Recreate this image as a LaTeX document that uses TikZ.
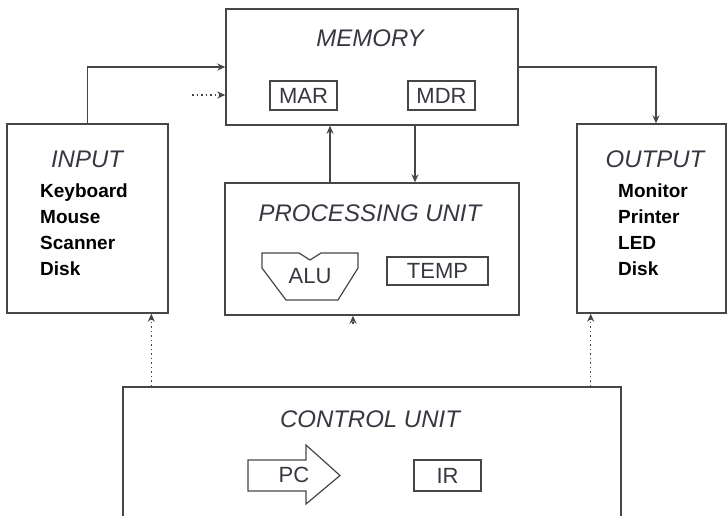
\documentclass[tikz,border=0pt]{standalone}
\usepackage{fontspec}
\setmainfont{Liberation Sans}
\usetikzlibrary{arrows.meta,positioning,calc}
\definecolor{boxgray}{RGB}{70,70,70}
\definecolor{titlegray}{RGB}{55,55,65}

\begin{document}
\begin{tikzpicture}[x=1pt, y=-1pt,
    unit/.style={rectangle, draw=boxgray, line width=1.4pt, inner sep=0pt},
    unittitle/.style={font=\fontsize{24}{28}\selectfont\itshape, text=titlegray, inner sep=0pt},
    items/.style={font=\fontsize{19}{26}\selectfont\bfseries, align=left, anchor=north west, inner sep=0pt},
    reg/.style={rectangle, draw=boxgray, line width=1.2pt, font=\fontsize{22}{26}\selectfont, text=titlegray, inner sep=0pt},
    link/.style={draw=boxgray, line width=1.4pt, -{Stealth[length=8pt,width=7pt]}},
    ctrl/.style={link, dash pattern=on 1.5pt off 3pt}]
        \useasboundingbox (0,0) rectangle (728,515);

        % units
        \node[unit, minimum width=292pt, minimum height=116pt] (mem) at (372,67) {};
        \node[unit, minimum width=161pt, minimum height=189pt] (inp) at (87.5,218.5) {};
        \node[unit, minimum width=149pt, minimum height=189pt] (out) at (651.5,218.5) {};
        \node[unit, minimum width=294pt, minimum height=132pt] (pu) at (372,249) {};
        \node[unit, minimum width=498pt, minimum height=160pt] (cu) at (372,467) {};

        % titles
        \node[unittitle] (memtitle) at (370,38) {MEMORY};
        \node[unittitle] (inptitle) at (87,159) {INPUT};
        \node[unittitle] (outtitle) at (655,159) {OUTPUT};
        \node[unittitle] (putitle) at (370,213) {PROCESSING UNIT};
        \node[unittitle] (cutitle) at (370,419) {CONTROL UNIT};

        % devices
        \node[items] (inplist) at (40,184) {Keyboard\\Mouse\\Scanner\\Disk};
        \node[items] (outlist) at (618,184) {Monitor\\Printer\\LED\\Disk};

        % registers
        \node[reg, minimum width=67pt, minimum height=29pt] (mar) at (303.5,95.5) {MAR};
        \node[reg, minimum width=67pt, minimum height=29pt] (mdr) at (441.5,95.5) {MDR};
        \node[reg, minimum width=101pt, minimum height=28pt] (temp) at (437.5,271) {TEMP};
        \node[reg, minimum width=67pt, minimum height=31pt] (ir) at (447.5,475.5) {IR};
        \node[reg, draw=none] (alu) at (310,276) {ALU};
        \node[reg, draw=none] (pc) at (294,475) {PC};
        \draw[boxgray, line width=1.2pt] (262,253) -- (299,253) -- (310,260) -- (321,253) -- (358,253)
            -- (358,268) -- (338,300) -- (286,300) -- (262,268) -- cycle;
        \draw[boxgray, line width=1.2pt] (248,460) -- (306,460) -- (306,445) -- (340,475.5)
            -- (306,504) -- (306,491) -- (248,491) -- cycle;

        % data paths
        \coordinate (dotin) at (192,95);
        \draw[link] (inp.north) |- (mem.west);
        \draw[ctrl] (dotin) -- (dotin -| mem.west);
        \draw[link] (mem.east) -| ([xshift=4.5pt]out.north);
        \draw[link] ([xshift=-42pt]pu.north) -- ([xshift=-42pt]mem.south);
        \draw[link] ([xshift=43pt]mem.south) -- ([xshift=43pt]pu.north);

        % control signals
        \draw[ctrl] ([xshift=29pt]cu.north west) -- ([xshift=29pt]cu.north west |- inp.south);
        \draw[ctrl] ([xshift=-31pt]cu.north east) -- ([xshift=-31pt]cu.north east |- out.south);
        \draw[ctrl] ([xshift=-19pt, yshift=-8pt]pu.south) -- ([xshift=-19pt]pu.south);
      \end{tikzpicture}
\end{document}
